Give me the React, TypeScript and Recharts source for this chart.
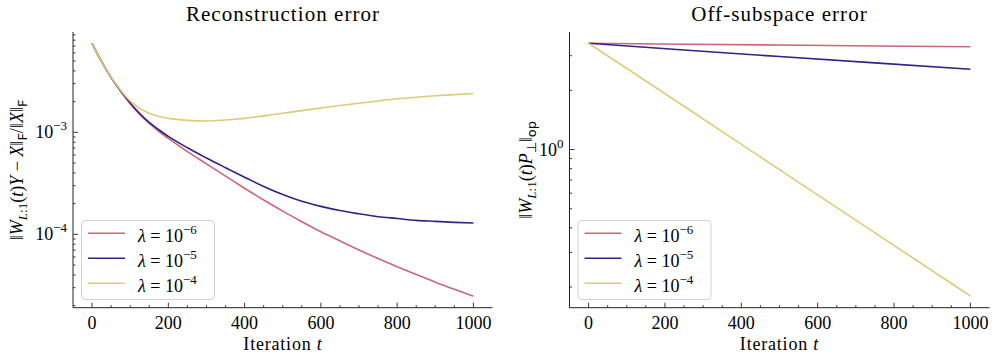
import React from "react";
import { LineChart, Line, XAxis, YAxis } from "recharts";

// iteration index t (left panel)
const ITERATIONS = [0, 25, 50, 75, 100, 125, 150, 175, 200, 250, 300, 350, 400, 450, 500, 550, 600, 650, 700, 750, 800, 850, 900, 950, 1000];

// ||W_{L:1}(t)Y - X||_F / ||X||_F
const RECON_L6 = [7.45e-3, 4.93e-3, 3.44e-3, 2.52e-3, 1.91e-3, 1.5e-3, 1.22e-3, 1.02e-3, 8.71e-4, 6.46e-4, 4.9e-4, 3.72e-4, 2.83e-4, 2.17e-4, 1.69e-4, 1.33e-4, 1.06e-4, 8.61e-5, 7.03e-5, 5.79e-5, 4.82e-5, 4.04e-5, 3.4e-5, 2.89e-5, 2.47e-5];
const RECON_L5 = [7.45e-3, 4.93e-3, 3.45e-3, 2.54e-3, 1.94e-3, 1.53e-3, 1.25e-3, 1.06e-3, 9.12e-4, 7.05e-4, 5.6e-4, 4.5e-4, 3.63e-4, 2.95e-4, 2.46e-4, 2.11e-4, 1.88e-4, 1.71e-4, 1.59e-4, 1.49e-4, 1.43e-4, 1.37e-4, 1.34e-4, 1.31e-4, 1.29e-4];
const RECON_L4 = [7.45e-3, 4.93e-3, 3.47e-3, 2.59e-3, 2.03e-3, 1.71e-3, 1.54e-3, 1.43e-3, 1.37e-3, 1.31e-3, 1.29e-3, 1.32e-3, 1.37e-3, 1.45e-3, 1.54e-3, 1.63e-3, 1.73e-3, 1.83e-3, 1.93e-3, 2.03e-3, 2.13e-3, 2.21e-3, 2.28e-3, 2.34e-3, 2.4e-3];

// iteration index t (right panel)
const OFF_ITERATIONS = [0, 250, 500, 750, 1000];
// ||W_{L:1}(t)P_perp||_op
const OFF_L6 = [3.47, 3.43, 3.4, 3.36, 3.33];
const OFF_L5 = [3.47, 3.21, 2.97, 2.76, 2.56];
const OFF_L4 = [3.47, 1.66, 0.79, 0.377, 0.18];

const LAMBDA_EXP = [-6, -5, -4];
const COLORS = ["#cc6677", "#332288", "#ddcc77"];
const KEYS = ["l6", "l5", "l4"];

const X_DOMAIN = [-50, 1050];
const X_MAJOR = [0, 200, 400, 600, 800, 1000];
const X_TICKS = [0, 50, 100, 150, 200, 250, 300, 350, 400, 450, 500, 550, 600, 650, 700, 750, 800, 850, 900, 950, 1000];
const RECON_DOMAIN = [1.91e-5, 9.62e-3];
const OFF_DOMAIN = [0.157, 3.96];
const MANTISSAS = [1, 2, 3, 4, 5, 6, 7, 8, 9];
const logTicks = (decades: number[], dom: number[]) =>
  decades.flatMap((d) => MANTISSAS.map((m) => m * d)).filter((v) => v >= dom[0] && v <= dom[1]);
const RECON_TICKS = logTicks([1e-5, 1e-4, 1e-3], RECON_DOMAIN);
const OFF_TICKS = logTicks([0.1, 1], OFF_DOMAIN);

const reconData = ITERATIONS.map((t, i) => ({ t, l6: RECON_L6[i], l5: RECON_L5[i], l4: RECON_L4[i] }));
const offData = OFF_ITERATIONS.map((t, i) => ({ t, l6: OFF_L6[i], l5: OFF_L5[i], l4: OFF_L4[i] }));

const INK = "#222";
const FONT = "'Liberation Serif', 'Times New Roman', serif";
const SANS = "'DejaVu Sans', sans-serif";
const FS = 18;
const SUB = 13;

function XTick(props: any) {
  const { x, y, payload, top } = props;
  const v = payload.value;
  const major = X_MAJOR.includes(v);
  const len = major ? 5 : 2.5;
  return (
    <g>
      <line x1={x} x2={x} y1={y} y2={top ? y + len : y - len} stroke={INK} strokeWidth={0.9} />
      {!top && major && (
        <text x={x} y={y + 21} textAnchor="middle" fontSize={FS} fontFamily={FONT} style={{ fontFamily: FONT }} fill="#000">
          {v}
        </text>
      )}
    </g>
  );
}

function YTick(props: any) {
  const { x, y, payload, right } = props;
  const lg = Math.log10(payload.value);
  const e = Math.round(lg);
  const major = Math.abs(lg - e) < 1e-6;
  const len = major ? 5 : 2.5;
  return (
    <g>
      <line x1={x} x2={right ? x - len : x + len} y1={y} y2={y} stroke={INK} strokeWidth={0.9} />
      {!right && major && (
        <text x={x - 6} y={y + 6} textAnchor="end" fontSize={FS} fontFamily={FONT} style={{ fontFamily: FONT }} fill="#000">
          10
          <tspan dy={-8} fontSize={SUB}>
            {e < 0 ? "\u2212" + Math.abs(e) : String(e)}
          </tspan>
        </text>
      )}
    </g>
  );
}

function Panel({ data, domain, ticks, yWidth, lineType }: any) {
  const frame = { stroke: INK, strokeWidth: 1 };
  return (
    <LineChart width={500} height={360} data={data} margin={{ top: 32, right: 7.5, bottom: 0, left: 0 }}>
      <XAxis
        dataKey="t"
        type="number"
        domain={X_DOMAIN}
        ticks={X_TICKS}
        interval={0}
        height={52.3}
        tickSize={0}
        tickMargin={0}
        tickLine={false}
        axisLine={frame}
        tick={(p: any) => <XTick {...p} />}
      />
      <XAxis
        xAxisId="top"
        orientation="top"
        dataKey="t"
        type="number"
        domain={X_DOMAIN}
        ticks={X_TICKS}
        interval={0}
        height={0}
        tickSize={0}
        tickMargin={0}
        tickLine={false}
        axisLine={frame}
        tick={(p: any) => <XTick {...p} top />}
      />
      <YAxis
        type="number"
        scale="log"
        domain={domain}
        allowDataOverflow
        ticks={ticks}
        interval={0}
        width={yWidth}
        tickSize={0}
        tickMargin={0}
        tickLine={false}
        axisLine={frame}
        tick={(p: any) => <YTick {...p} />}
      />
      <YAxis
        yAxisId="r"
        orientation="right"
        type="number"
        scale="log"
        domain={domain}
        allowDataOverflow
        ticks={ticks}
        interval={0}
        width={0}
        tickSize={0}
        tickMargin={0}
        tickLine={false}
        axisLine={frame}
        tick={(p: any) => <YTick {...p} right />}
      />
      {KEYS.map((k, i) => (
        <Line
          key={k}
          type={lineType}
          dataKey={k}
          stroke={COLORS[i]}
          strokeWidth={1.6}
          dot={false}
          isAnimationActive={false}
        />
      ))}
    </LineChart>
  );
}

function LegendBox({ x, y }: { x: number; y: number }) {
  return (
    <g>
      <rect x={x} y={y} width={133} height={79} rx={3.5} fill="#fff" fillOpacity={0.85} stroke="#d2d2d2" strokeWidth={1} />
      {LAMBDA_EXP.map((e, i) => (
        <g key={e}>
          <line x1={x + 6.5} x2={x + 43.5} y1={y + 12.8 + i * 25} y2={y + 12.8 + i * 25} stroke={COLORS[i]} strokeWidth={1.6} />
          <text x={x + 56.5} y={y + 21 + i * 25} fontSize={FS} fontFamily={FONT} fill="#000">
            <tspan fontStyle="italic">λ</tspan>
            {" = 10"}
            <tspan dy={-8} fontSize={SUB}>
              {"\u2212" + Math.abs(e)}
            </tspan>
          </text>
        </g>
      ))}
    </g>
  );
}

export default function App() {
  return (
    <div style={{ position: "absolute", left: 0, top: 0, width: 997, height: 360, background: "#fff" }}>
      <div style={{ position: "absolute", left: 0, top: 0 }}>
        <Panel data={reconData} domain={RECON_DOMAIN} ticks={RECON_TICKS} yWidth={73} lineType="monotone" />
      </div>
      <div style={{ position: "absolute", left: 497, top: 0 }}>
        <Panel data={offData} domain={OFF_DOMAIN} ticks={OFF_TICKS} yWidth={72.5} lineType="linear" />
      </div>
      <svg width={997} height={360} style={{ position: "absolute", left: 0, top: 0, pointerEvents: "none" }}>
        <g fontFamily={FONT} fill="#000">
          <text x={283} y={20.7} textAnchor="middle" fontSize={21} letterSpacing={1.05}>
            Reconstruction error
          </text>
          <text x={779.5} y={20.7} textAnchor="middle" fontSize={21} letterSpacing={1.05}>
            Off-subspace error
          </text>
          <text x={283} y={350} textAnchor="middle" fontSize={FS} letterSpacing={0.8}>
            Iteration <tspan fontStyle="italic">t</tspan>
          </text>
          <text x={779.5} y={350} textAnchor="middle" fontSize={FS} letterSpacing={0.8}>
            Iteration <tspan fontStyle="italic">t</tspan>
          </text>
          <text transform="translate(22.5,169.9) rotate(-90)" textAnchor="middle" fontSize={FS}>
            ‖<tspan fontStyle="italic">W</tspan>
            <tspan dy={4} fontSize={SUB}>
              <tspan fontStyle="italic">L</tspan>:1
            </tspan>
            <tspan dy={-4}>(</tspan>
            <tspan fontStyle="italic">t</tspan>)<tspan fontStyle="italic">Y</tspan> − <tspan fontStyle="italic">X</tspan>‖
            <tspan dy={4} fontSize={SUB} fontFamily={SANS}>F</tspan>
            <tspan dy={-4}>/‖</tspan>
            <tspan fontStyle="italic">X</tspan>‖
            <tspan dy={4} fontSize={SUB} fontFamily={SANS}>F</tspan>
          </text>
          <text transform="translate(531.5,169.9) rotate(-90)" textAnchor="middle" fontSize={FS}>
            ‖<tspan fontStyle="italic">W</tspan>
            <tspan dy={4} fontSize={SUB}>
              <tspan fontStyle="italic">L</tspan>:1
            </tspan>
            <tspan dy={-4}>(</tspan>
            <tspan fontStyle="italic">t</tspan>)<tspan fontStyle="italic">P</tspan>
            <tspan dy={4} fontSize={SUB}>⊥</tspan>
            <tspan dy={-4}>‖</tspan>
            <tspan dy={4} fontSize={SUB} fontFamily={SANS}>op</tspan>
          </text>
        </g>
        <LegendBox x={81.5} y={220.5} />
        <LegendBox x={578} y={220.5} />
      </svg>
    </div>
  );
}
